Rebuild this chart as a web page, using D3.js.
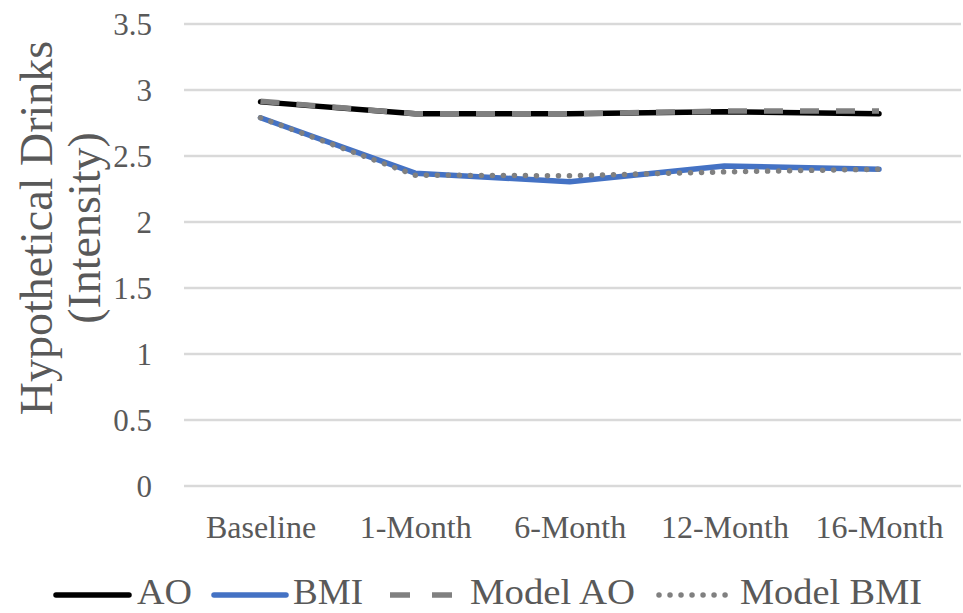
<!DOCTYPE html>
<html>
<head>
<meta charset="utf-8">
<script src="https://cdn.jsdelivr.net/npm/d3@7"></script>
<style>
  html, body { margin: 0; padding: 0; background: #ffffff; }
  svg { display: block; }
  text { font-family: "Liberation Serif", "Times New Roman", serif; fill: #595959; }
</style>
</head>
<body>
<svg id="chart" width="963" height="613"></svg>
<script>
// Time points and series values (hypothetical drinks, intensity)
const categories = ["Baseline", "1-Month", "6-Month", "12-Month", "16-Month"];
const aoValues = [2.91, 2.82, 2.82, 2.835, 2.82];
const bmiValues = [2.79, 2.37, 2.305, 2.425, 2.40];
const modelAoValues = [2.915, 2.82, 2.82, 2.84, 2.84];
const modelBmiValues = [2.79, 2.355, 2.35, 2.38, 2.40];
const yTicks = [0, 0.5, 1, 1.5, 2, 2.5, 3, 3.5];
const yTitle = ["Hypothetical Drinks", "(Intensity)"];

const series = [
  { name: "AO", values: aoValues, color: "#000000", dash: null, cap: "round" },
  { name: "BMI", values: bmiValues, color: "#4472c4", dash: null, cap: "round" },
  { name: "Model AO", values: modelAoValues, color: "#808080", dash: "19,17", cap: "butt" },
  { name: "Model BMI", values: modelBmiValues, color: "#808080", dash: "0.01,11", cap: "round" }
];

const svg = d3.select("#chart");
const serif = "Liberation Serif, Times New Roman, serif";

const plotLeft = 184, plotRight = 961;
const x = d3.scalePoint().domain(categories).range([260.5, 879]);
const y = d3.scaleLinear().domain([0, 3.5]).range([486, 24]);

// Horizontal gridlines
svg.append("g")
  .selectAll("line")
  .data(yTicks)
  .join("line")
  .attr("x1", plotLeft)
  .attr("x2", plotRight)
  .attr("y1", d => y(d))
  .attr("y2", d => y(d))
  .attr("stroke", "#d9d9d9")
  .attr("stroke-width", 2.5);

// Y tick labels
const yAxis = d3.axisLeft(y).tickValues(yTicks).tickSize(0).tickPadding(0)
  .tickFormat(d3.format("~g"));
const yG = svg.append("g").attr("transform", "translate(152,0)").call(yAxis);
yG.attr("font-family", serif);
yG.select(".domain").remove();
yG.selectAll("text")
  .attr("font-family", serif)
  .attr("font-size", 31)
  .attr("fill", "#595959")
  .attr("dy", "0.33em");

// X category labels
const xAxis = d3.axisBottom(x).tickSize(0).tickPadding(0);
const xG = svg.append("g").attr("transform", "translate(0,538)").call(xAxis);
xG.attr("font-family", serif);
xG.select(".domain").remove();
xG.selectAll("text")
  .attr("font-family", serif)
  .attr("font-size", 32)
  .attr("fill", "#595959")
  .attr("dy", 0)
  .attr("y", 0);

// Y axis title, two rotated lines
const title = svg.append("text")
  .attr("transform", "translate(52,228) rotate(-90)")
  .attr("text-anchor", "middle")
  .attr("font-family", serif)
  .attr("font-size", 46);
title.append("tspan").attr("x", 0).attr("y", 0).text(yTitle[0]);
title.append("tspan").attr("x", 0).attr("y", 48).text(yTitle[1]);

// Series lines
const line = d3.line()
  .x((d, i) => x(categories[i]))
  .y(d => y(d));

svg.append("g")
  .selectAll("path")
  .data(series)
  .join("path")
  .attr("d", d => line(d.values))
  .attr("fill", "none")
  .attr("stroke", d => d.color)
  .attr("stroke-width", 5.5)
  .attr("stroke-linejoin", "round")
  .attr("stroke-linecap", d => d.cap)
  .attr("stroke-dasharray", d => d.dash);

// Legend
const legendItems = [
  { s: series[0], x1: 56, x2: 129, tx: 137, tw: 55 },
  { s: series[1], x1: 214, x2: 286, tx: 293, tw: 70 },
  { s: series[2], x1: 390, x2: 452, tx: 470, tw: 165 },
  { s: series[3], x1: 659, x2: 728, tx: 740, tw: 182 }
];
const lg = svg.append("g");
lg.selectAll("line")
  .data(legendItems)
  .join("line")
  .attr("x1", d => d.x1)
  .attr("x2", d => d.x2)
  .attr("y1", 595)
  .attr("y2", 595)
  .attr("stroke", d => d.s.color)
  .attr("stroke-width", 5.5)
  .attr("stroke-linecap", d => d.s.cap)
  .attr("stroke-dasharray", d => d.s.name === "Model AO" ? "20,22" : d.s.dash);
lg.selectAll("text")
  .data(legendItems)
  .join("text")
  .attr("x", d => d.tx)
  .attr("y", 604)
  .attr("font-family", serif)
  .attr("font-size", 36)
  .attr("textLength", d => d.tw)
  .attr("lengthAdjust", "spacingAndGlyphs")
  .text(d => d.s.name);
</script>
</body>
</html>
